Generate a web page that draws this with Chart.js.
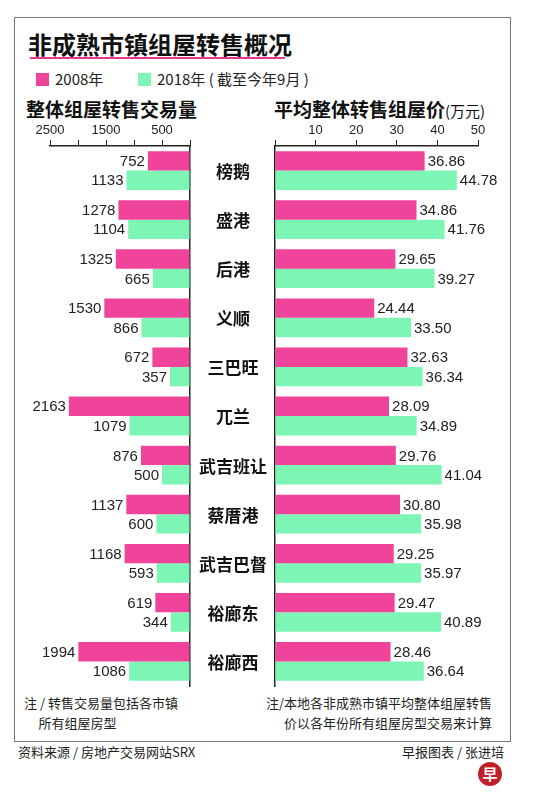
<!DOCTYPE html>
<html><head><meta charset="utf-8">
<script src="https://cdn.jsdelivr.net/npm/chart.js@4"></script>
<style>
body{margin:0;width:548px;height:800px;background:#fff;font-family:"Noto Sans CJK SC",sans-serif;position:relative;overflow:hidden;color:#222}
.a{position:absolute;white-space:nowrap}
#box{position:absolute;left:14px;top:17px;width:495px;height:723px;border:1.5px solid #777}
.sq{display:inline-block;width:13px;height:13px;vertical-align:-1px;margin-right:6px}
canvas{position:absolute}
</style></head><body>
<div id="box"></div>
<div class="a" style="left:28px;top:26px;font-size:24px;font-weight:bold;color:#111">非成熟市镇组屋转售概况</div>
<div class="a" style="left:30px;top:57px;width:255px;height:2px;background:#e8358f"></div>
<div class="a" style="left:36px;top:68px;font-size:15px"><span class="sq" style="background:#f0449b"></span>2008年</div>
<div class="a" style="left:138px;top:68px;font-size:15px"><span class="sq" style="background:#7df5b4"></span>2018年 ( 截至今年9月 )</div>
<div class="a" style="left:26px;top:95px;font-size:19px;font-weight:bold;color:#111">整体组屋转售交易量</div>
<div class="a" style="left:274px;top:95px;font-size:19px;font-weight:bold;color:#111">平均整体转售组屋价<span style="font-weight:normal;font-size:15px">(万元)</span></div>
<div class="a" style="left:24px;top:693px;font-size:13px;line-height:20px">注 / 转售交易量包括各市镇<br>&nbsp;&nbsp;&nbsp;&nbsp;&nbsp;所有组屋房型</div>
<div class="a" style="left:266px;top:693px;font-size:13px;line-height:20px;text-align:right">注/本地各非成熟市镇平均整体组屋转售<br>价以各年份所有组屋房型交易来计算</div>
<div class="a" style="left:18px;top:742px;font-size:13px">资料来源 / 房地产交易网站SRX</div>
<div class="a" style="left:402px;top:742px;font-size:13px">早报图表 / 张进培</div>
<div class="a" style="left:478px;top:762px;width:24px;height:24px;border-radius:12px;background:#c0202a;color:#fff;font-size:15px;text-align:center;line-height:24px;font-weight:bold">早</div>
<canvas id="c1" style="left:0px;top:110px;width:195px;height:580px" width="195" height="580"></canvas>
<canvas id="c2" style="left:195px;top:110px;width:320px;height:580px" width="320" height="580"></canvas>
<script>
const towns=["榜鹅","盛港","后港","义顺","三巴旺","兀兰","武吉班让","蔡厝港","武吉巴督","裕廊东","裕廊西"];
const vol2008=[752,1278,1325,1530,672,2163,876,1137,1168,619,1994];
const vol2018=[1133,1104,665,866,357,1079,500,600,593,344,1086];
const price2008=[36.86,34.86,29.65,24.44,32.63,28.09,29.76,30.80,29.25,29.47,28.46];
const price2018=[44.78,41.76,39.27,33.50,36.34,34.89,41.04,35.98,35.97,40.89,36.64];
const volTicks=["2500","1500","500"];
const priceTicks=["10","20","30","40","50"];
const PINK="#f0449b",GREEN="#7df5b4";
Chart.defaults.font.family="Liberation Sans, Arial, sans-serif";
Chart.defaults.color="#222";
Chart.defaults.devicePixelRatio=1;
Chart.defaults.animation=false;
function valLabels(side,fmt){return{id:'vl',afterDatasetsDraw(ch){const c=ch.ctx;c.save();c.font='15px Liberation Sans, Arial';c.fillStyle='#222';c.textBaseline='middle';
 ch.data.datasets.forEach((ds,i)=>{ch.getDatasetMeta(i).data.forEach((b,j)=>{const t=fmt(ds.data[j]);
  if(side==='left'){c.textAlign='right';c.fillText(t,b.x-3,b.y+1);}else{c.textAlign='left';c.fillText(t,b.x+3,b.y+1);}});});c.restore();}};}
function common(){return{responsive:false,maintainAspectRatio:false,indexAxis:'y',plugins:{legend:{display:false},tooltip:{enabled:false}}};}
const ds=(a,b)=>[{data:a,backgroundColor:PINK,categoryPercentage:0.79,barPercentage:1},{data:b,backgroundColor:GREEN,categoryPercentage:0.79,barPercentage:1}];
new Chart(document.getElementById('c1'),{type:'bar',data:{labels:towns,datasets:ds(vol2008,vol2018)},
 options:Object.assign(common(),{layout:{padding:{left:50,bottom:4,right:5,top:0}},
 scales:{x:{position:'top',reverse:true,min:0,max:2500,afterFit(s){s.height=36},
   afterBuildTicks(s){s.ticks=[0,500,1000,1500,2000,2500].map(v=>({value:v}))},
   ticks:{autoSkip:false,maxRotation:0,padding:2,font:{size:13},callback:v=>volTicks.includes(String(v))?String(v):''},
   grid:{drawOnChartArea:false,tickLength:6,color:'#222'},border:{color:'#222',width:1.5}},
  y:{position:'right',afterFit(s){s.width=0},ticks:{display:false},grid:{display:false,drawTicks:false},border:{color:'#222',width:1.5}}}}),
 plugins:[valLabels('left',v=>String(v))]});
new Chart(document.getElementById('c2'),{type:'bar',data:{labels:towns,datasets:ds(price2008,price2018)},
 options:Object.assign(common(),{layout:{padding:{right:37,bottom:4,top:0}},
 scales:{x:{position:'top',min:0,max:50,afterFit(s){s.height=36},
   afterBuildTicks(s){s.ticks=[0,10,20,30,40,50].map(v=>({value:v}))},
   ticks:{autoSkip:false,maxRotation:0,padding:2,font:{size:13},callback:v=>priceTicks.includes(String(v))?String(v):''},
   grid:{drawOnChartArea:false,tickLength:6,color:'#222'},border:{color:'#222',width:1.5}},
  y:{position:'left',afterFit(s){s.width=80},ticks:{display:false},grid:{display:false,drawTicks:false},border:{color:'#222',width:1.5}}}}),
 plugins:[valLabels('right',v=>v.toFixed(2)),{id:'cat',afterDraw(ch){const c=ch.ctx,y=ch.scales.y;c.save();c.font='bold 17px "Noto Sans CJK SC"';c.fillStyle='#111';c.textAlign='center';c.textBaseline='middle';
  towns.forEach((t,i)=>c.fillText(t,38,y.getPixelForValue(i)+1));c.restore();}}]});
</script></body></html>
